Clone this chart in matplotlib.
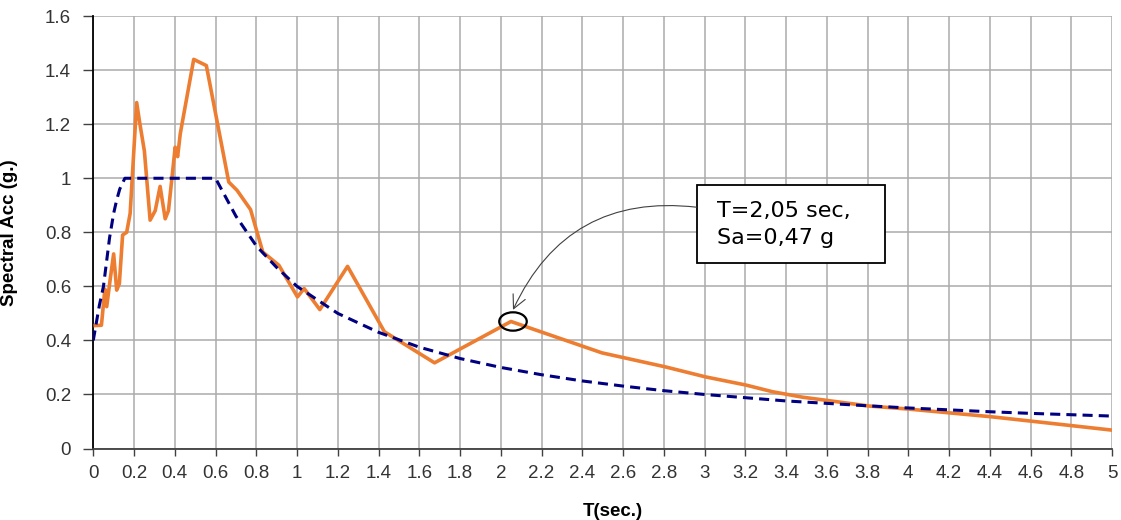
import matplotlib.pyplot as plt
from matplotlib.patches import Ellipse, Rectangle

rec_T = [0.01, 0.04, 0.057, 0.066, 0.082, 0.10, 0.115, 0.128, 0.144, 0.164,
         0.181, 0.213, 0.227, 0.251, 0.279, 0.304, 0.328, 0.353, 0.369, 0.386,
         0.402, 0.414, 0.427, 0.493, 0.555, 0.665, 0.706, 0.772, 0.832, 0.911,
         1.002, 1.035, 1.112, 1.248, 1.429, 1.675, 2.05, 2.496, 2.808, 3.005,
         3.202, 3.334, 3.48, 3.81, 4.0, 4.4, 4.63, 5.0]
rec_Sa = [0.455, 0.456, 0.59, 0.525, 0.62, 0.72, 0.586, 0.61, 0.79, 0.80,
          0.87, 1.28, 1.21, 1.10, 0.845, 0.88, 0.97, 0.85, 0.88, 1.0,
          1.115, 1.08, 1.165, 1.44, 1.417, 0.986, 0.955, 0.884, 0.727, 0.678,
          0.561, 0.592, 0.514, 0.674, 0.432, 0.317, 0.47, 0.354, 0.302, 0.265,
          0.235, 0.21, 0.19, 0.157, 0.146, 0.118, 0.099, 0.068]

# Design (dashed) spectrum
des_T = [0, 0.03, 0.05, 0.08, 0.10, 0.115, 0.13, 0.155, 0.6, 0.7, 0.8, 0.9,
         1.0, 1.2, 1.4, 1.6, 1.8, 2.0, 2.2, 2.4, 2.6, 2.8, 3.0, 3.2, 3.4,
         3.6, 3.8, 4.0, 4.2, 4.4, 4.6, 4.8, 5.0]
des_Sa = [0.40, 0.53, 0.60, 0.78, 0.87, 0.92, 0.96, 1.0, 1.0, 0.86, 0.75, 0.67,
          0.60, 0.50, 0.43, 0.375, 0.333, 0.30, 0.273, 0.25, 0.231, 0.214, 0.20,
          0.188, 0.176, 0.167, 0.158, 0.15, 0.143, 0.136, 0.13, 0.125, 0.12]

x_ticks = [i * 0.2 for i in range(26)]
x_labels = ["0", "0.2", "0.4", "0.6", "0.8", "1", "1.2", "1.4", "1.6", "1.8",
            "2", "2.2", "2.4", "2.6", "2.8", "3", "3.2", "3.4", "3.6", "3.8",
            "4", "4.2", "4.4", "4.6", "4.8", "5"]
y_ticks = [i * 0.2 for i in range(9)]
y_labels = ["0", "0.2", "0.4", "0.6", "0.8", "1", "1.2", "1.4", "1.6"]

peak_idx = 36  # T=2,05 sec point
note_text = "T=2,05 sec,\nSa=0,47 g"

plt.rcParams['font.family'] = ['Liberation Sans', 'DejaVu Sans']

fig = plt.figure(figsize=(11.21, 5.20), dpi=100)
ax = fig.add_axes([0.0832, 0.1375, 0.9088, 0.8315])

ax.plot(rec_T, rec_Sa, color='#ED7D31', lw=2.6, zorder=3)
ax.plot(des_T, des_Sa, color='#000080', lw=2.2, dashes=[3.3, 2.0], zorder=4)

ax.set_xlim(0, 5)
ax.set_ylim(0, 1.6)
ax.set_xticks(x_ticks)
ax.set_xticklabels(x_labels)
ax.set_yticks(y_ticks)
ax.set_yticklabels(y_labels)
ax.grid(True, color='#ABABAB', lw=1.1)
ax.set_axisbelow(True)

for s in ['top', 'right']:
    ax.spines[s].set_visible(False)
ax.spines['left'].set_color('black')
ax.spines['left'].set_linewidth(1.3)
ax.spines['bottom'].set_color('#404040')
ax.spines['bottom'].set_linewidth(1.3)

ax.tick_params(axis='x', direction='out', length=5, width=1, color='#404040',
               labelsize=13.5, labelcolor='#333333', pad=7)
ax.tick_params(axis='y', direction='out', length=7, width=1, color='#404040',
               labelsize=13.5, labelcolor='#333333', pad=9)

ax.set_ylabel("Spectral Acc (g.)", fontsize=13.5, fontweight='bold')
ax.set_xlabel("T(sec.)", fontsize=13.5, fontweight='bold')
ax.yaxis.set_label_coords(-0.074, 0.5)
ax.xaxis.set_label_coords(0.51, -0.126)

# circle around the marked point
px, py = rec_T[peak_idx], rec_Sa[peak_idx]
ax.add_patch(Ellipse((px + 0.01, py), 0.135, 0.068, fill=False,
                     edgecolor='black', lw=1.6, zorder=5))

# note box
ax.add_patch(Rectangle((2.962, 0.685), 0.923, 0.289, facecolor='white',
                       edgecolor='black', lw=1.3, zorder=6))
ax.text(3.063, 0.828, note_text, ha='left', va='center', fontsize=16,
        family=['DejaVu Sans'], color='black', linespacing=1.45, zorder=7)

ax.annotate("", xy=(px + 0.01, py + 0.043), xytext=(2.96, 0.893),
            arrowprops=dict(arrowstyle='->', color='#404040', lw=0.8,
                            connectionstyle='arc3,rad=0.36',
                            shrinkA=0, shrinkB=0, mutation_scale=24),
            zorder=6)

fig.savefig("out.png", dpi=100)
